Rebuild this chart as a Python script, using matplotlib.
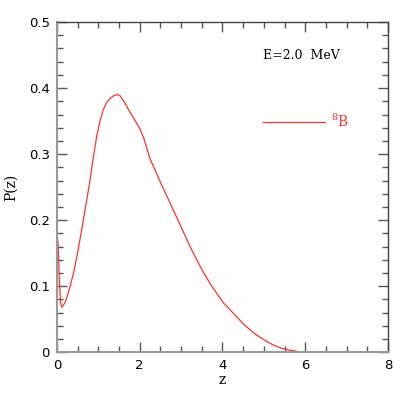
import matplotlib
matplotlib.use("Agg")
import matplotlib.pyplot as plt
from matplotlib.ticker import MultipleLocator

plt.rcParams["mathtext.fontset"] = "dejavuserif"

# values
z = [0.0, 0.01, 0.03, 0.06, 0.09, 0.12, 0.2, 0.3, 0.4, 0.5, 0.64, 0.8,
     0.88, 0.96, 1.04, 1.12, 1.2, 1.28, 1.36, 1.44, 1.52, 1.64, 1.76, 1.88,
     2.0, 2.1, 2.25, 2.37, 2.49, 2.63, 2.77, 2.91, 3.05, 3.2, 3.37, 3.53,
     3.7, 3.86, 4.02, 4.2, 4.35, 4.5, 4.66, 4.82, 5.02, 5.22, 5.42, 5.63,
     5.82, 6.0, 8.0]
pz = [0.150, 0.175, 0.165, 0.110, 0.075, 0.068, 0.075, 0.095, 0.119, 0.150,
      0.200, 0.260, 0.295, 0.326, 0.350, 0.367, 0.378, 0.384, 0.388, 0.390,
      0.389, 0.378, 0.364, 0.352, 0.339, 0.324, 0.293, 0.276, 0.259, 0.240,
      0.221, 0.202, 0.183, 0.162, 0.141, 0.122, 0.104, 0.089, 0.075, 0.063,
      0.053, 0.043, 0.034, 0.026, 0.018, 0.011, 0.006, 0.003, 0.001, 0.0,
      0.0]
x_ticks = [0, 2, 4, 6, 8]
y_ticks = [0, 0.1, 0.2, 0.3, 0.4, 0.5]
y_tick_labels = ["0", "0.1", "0.2", "0.3", "0.4", "0.5"]
series_label = r"$^{8}$B"
energy_text = "E=2.0  MeV"

RED = "#ff3030"

fig = plt.figure(figsize=(4.09, 4.09), dpi=100)
ax = fig.add_axes([0.139, 0.139, 0.810, 0.807])

ax.plot(z, pz, color=RED, lw=0.9)

ax.set_xlim(0, 8)
ax.set_ylim(0, 0.5)
ax.set_xticks(x_ticks)
ax.set_xticklabels([str(t) for t in x_ticks])
ax.set_yticks(y_ticks)
ax.set_yticklabels(y_tick_labels)
ax.xaxis.set_minor_locator(MultipleLocator(0.5))
ax.yaxis.set_minor_locator(MultipleLocator(0.02))

ax.tick_params(which="both", direction="in", top=True, right=True,
               color="#555555", labelsize=9.5, pad=5)
ax.tick_params(which="major", length=7, width=1)
ax.tick_params(which="minor", length=4, width=1)
for s in ax.spines.values():
    s.set_color("#444444")
    s.set_linewidth(1)
ax.spines["left"].set_color("#999999")
ax.spines["left"].set_linewidth(1.5)
ax.spines["bottom"].set_color("#999999")
ax.spines["bottom"].set_linewidth(1.5)

ax.set_xlabel("z", family="DejaVu Serif", fontsize=10, labelpad=1)
ax.set_ylabel("P(z)", family="DejaVu Serif", fontsize=10, labelpad=8)

ax.text(4.98, 0.45, energy_text, family="DejaVu Serif", fontsize=9,
        va="center", ha="left")
ax.plot([4.98, 6.47], [0.349, 0.349], color=RED, lw=0.9)
ax.text(6.62, 0.349, series_label, family="DejaVu Serif", fontsize=10,
        va="center", ha="left", color=RED)

fig.savefig("out.png", dpi=100)
